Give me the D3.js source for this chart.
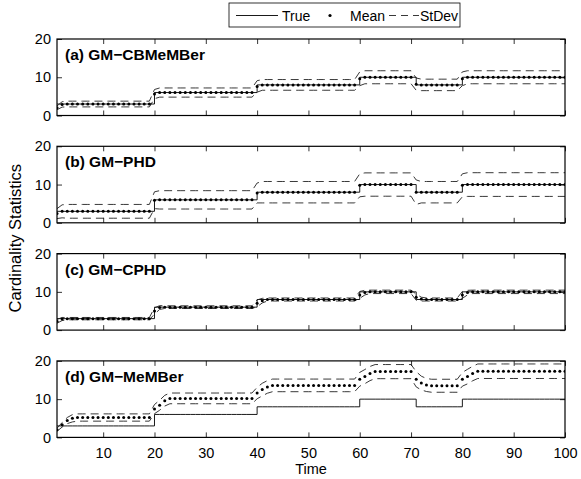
<!DOCTYPE html>
<html>
<head>
<meta charset="utf-8">
<script src="https://cdn.jsdelivr.net/npm/d3@7"></script>
<style>
  body { margin: 0; background: #fff; }
  svg { display: block; }
</style>
</head>
<body>
<div id="chart"></div>
<script>
// time steps 1..100
const timeSteps = d3.range(1, 101);

// true cardinality
const trueCard = [
  3, 3, 3, 3, 3, 3, 3, 3, 3, 3, 3, 3, 3, 3, 3, 3, 3, 3, 3, 6,
  6, 6, 6, 6, 6, 6, 6, 6, 6, 6, 6, 6, 6, 6, 6, 6, 6, 6, 6, 8,
  8, 8, 8, 8, 8, 8, 8, 8, 8, 8, 8, 8, 8, 8, 8, 8, 8, 8, 8, 10,
  10, 10, 10, 10, 10, 10, 10, 10, 10, 10, 8, 8, 8, 8, 8, 8, 8, 8, 8, 10,
  10, 10, 10, 10, 10, 10, 10, 10, 10, 10, 10, 10, 10, 10, 10, 10, 10, 10, 10, 10,
];

// (a) GM-CBMeMBer
const cbMean = [
  2.0, 2.9, 3.0, 3.0, 3.0, 3.0, 3.0, 3.0, 3.0, 3.0, 3.0, 3.0, 3.0, 3.0, 3.0, 3.0, 3.0, 3.0, 3.0, 5.6,
  6.0, 6.0, 6.0, 6.0, 6.0, 6.0, 6.0, 6.0, 6.0, 6.0, 6.0, 6.0, 6.0, 6.0, 6.0, 6.0, 6.0, 6.0, 6.0, 7.6,
  8.0, 8.0, 8.0, 8.0, 8.0, 8.0, 8.0, 8.0, 8.0, 8.0, 8.0, 8.0, 8.0, 8.0, 8.0, 8.0, 8.0, 8.0, 8.0, 9.6,
  10.0, 10.0, 10.0, 10.0, 10.0, 10.0, 10.0, 10.0, 10.0, 10.0, 8.2, 8.0, 8.0, 8.0, 8.0, 8.0, 8.0, 8.0, 8.0, 9.6,
  10.0, 10.0, 10.0, 10.0, 10.0, 10.0, 10.0, 10.0, 10.0, 10.0, 10.0, 10.0, 10.0, 10.0, 10.0, 10.0, 10.0, 10.0, 10.0, 10.0,
];
const cbStd = [
  0.5, 0.7, 0.75, 0.75, 0.75, 0.75, 0.75, 0.75, 0.75, 0.75, 0.75, 0.75, 0.75, 0.75, 0.75, 0.75, 0.75, 0.75, 0.75, 1.2,
  1.2, 1.2, 1.2, 1.2, 1.2, 1.2, 1.2, 1.2, 1.2, 1.2, 1.2, 1.2, 1.2, 1.2, 1.2, 1.2, 1.2, 1.2, 1.2, 1.5,
  1.4, 1.4, 1.4, 1.4, 1.4, 1.4, 1.4, 1.4, 1.4, 1.4, 1.4, 1.4, 1.4, 1.4, 1.4, 1.4, 1.4, 1.4, 1.4, 1.8,
  1.7, 1.7, 1.7, 1.7, 1.7, 1.7, 1.7, 1.7, 1.7, 1.7, 1.6, 1.5, 1.5, 1.5, 1.5, 1.5, 1.5, 1.5, 1.5, 1.8,
  1.7, 1.7, 1.7, 1.7, 1.7, 1.7, 1.7, 1.7, 1.7, 1.7, 1.7, 1.7, 1.7, 1.7, 1.7, 1.7, 1.7, 1.7, 1.7, 1.7,
];

// (b) GM-PHD
const phdMean = [
  2.4, 3.0, 3.0, 3.0, 3.0, 3.0, 3.0, 3.0, 3.0, 3.0, 3.0, 3.0, 3.0, 3.0, 3.0, 3.0, 3.0, 3.0, 3.0, 5.9,
  6.0, 6.0, 6.0, 6.0, 6.0, 6.0, 6.0, 6.0, 6.0, 6.0, 6.0, 6.0, 6.0, 6.0, 6.0, 6.0, 6.0, 6.0, 6.0, 7.8,
  8.0, 8.0, 8.0, 8.0, 8.0, 8.0, 8.0, 8.0, 8.0, 8.0, 8.0, 8.0, 8.0, 8.0, 8.0, 8.0, 8.0, 8.0, 8.0, 9.8,
  10.0, 10.0, 10.0, 10.0, 10.0, 10.0, 10.0, 10.0, 10.0, 10.0, 8.0, 8.0, 8.0, 8.0, 8.0, 8.0, 8.0, 8.0, 8.0, 9.8,
  10.0, 10.0, 10.0, 10.0, 10.0, 10.0, 10.0, 10.0, 10.0, 10.0, 10.0, 10.0, 10.0, 10.0, 10.0, 10.0, 10.0, 10.0, 10.0, 10.0,
];
const phdStd = [
  1.3, 1.7, 1.8, 1.8, 1.8, 1.8, 1.8, 1.8, 1.8, 1.8, 1.8, 1.8, 1.8, 1.8, 1.8, 1.8, 1.8, 1.8, 1.8, 2.2,
  2.4, 2.4, 2.4, 2.4, 2.4, 2.4, 2.4, 2.4, 2.4, 2.4, 2.4, 2.4, 2.4, 2.4, 2.4, 2.4, 2.4, 2.4, 2.4, 2.6,
  2.8, 2.8, 2.8, 2.8, 2.8, 2.8, 2.8, 2.8, 2.8, 2.8, 2.8, 2.8, 2.8, 2.8, 2.8, 2.8, 2.8, 2.8, 2.8, 3.0,
  3.05, 3.05, 3.05, 3.05, 3.05, 3.05, 3.05, 3.05, 3.05, 3.05, 3.2, 2.8, 2.8, 2.8, 2.8, 2.8, 2.8, 2.8, 2.8, 3.0,
  3.1, 3.1, 3.1, 3.1, 3.1, 3.1, 3.1, 3.1, 3.1, 3.1, 3.1, 3.1, 3.1, 3.1, 3.1, 3.1, 3.1, 3.1, 3.1, 3.1,
];

// (c) GM-CPHD
const cphdMean = [
  2.3, 2.9, 3.0, 3.0, 3.0, 3.0, 3.0, 3.0, 3.0, 3.0, 3.0, 3.0, 3.0, 3.0, 3.0, 3.0, 3.0, 3.0, 3.0, 5.0,
  5.9, 6.0, 6.0, 6.0, 6.0, 6.0, 6.0, 6.0, 6.0, 6.0, 6.0, 6.0, 6.0, 6.0, 6.0, 6.0, 6.0, 6.0, 6.0, 7.0,
  7.7, 8.0, 8.0, 8.0, 8.0, 8.0, 8.0, 8.0, 8.0, 8.0, 8.0, 8.0, 8.0, 8.0, 8.0, 8.0, 8.0, 8.0, 8.0, 9.2,
  9.8, 10.0, 10.0, 10.0, 10.0, 10.0, 10.0, 10.0, 10.0, 10.0, 8.6, 8.1, 8.0, 8.0, 8.0, 8.0, 8.0, 8.0, 8.0, 9.2,
  9.8, 10.0, 10.0, 10.0, 10.0, 10.0, 10.0, 10.0, 10.0, 10.0, 10.0, 10.0, 10.0, 10.0, 10.0, 10.0, 10.0, 10.0, 10.0, 10.0,
];
const cphdStd = [
  0.5, 0.4, 0.3, 0.3, 0.3, 0.3, 0.3, 0.3, 0.3, 0.3, 0.3, 0.3, 0.3, 0.3, 0.3, 0.3, 0.3, 0.3, 0.3, 0.8,
  0.5, 0.35, 0.35, 0.35, 0.35, 0.35, 0.35, 0.35, 0.35, 0.35, 0.35, 0.35, 0.35, 0.35, 0.35, 0.35, 0.35, 0.35, 0.35, 0.9,
  0.6, 0.4, 0.4, 0.4, 0.4, 0.4, 0.4, 0.4, 0.4, 0.4, 0.4, 0.4, 0.4, 0.4, 0.4, 0.4, 0.4, 0.4, 0.4, 0.9,
  0.6, 0.45, 0.45, 0.45, 0.45, 0.45, 0.45, 0.45, 0.45, 0.45, 0.8, 0.5, 0.4, 0.4, 0.4, 0.4, 0.4, 0.4, 0.4, 0.9,
  0.6, 0.45, 0.45, 0.45, 0.45, 0.45, 0.45, 0.45, 0.45, 0.45, 0.45, 0.45, 0.45, 0.45, 0.45, 0.45, 0.45, 0.45, 0.45, 0.45,
];

// (d) GM-MeMBer
const memMean = [
  2.0, 3.3, 4.4, 5.0, 5.2, 5.2, 5.2, 5.2, 5.2, 5.2, 5.2, 5.2, 5.2, 5.2, 5.2, 5.2, 5.2, 5.2, 5.2, 7.4,
  8.4, 9.6, 10.2, 10.2, 10.2, 10.2, 10.2, 10.2, 10.2, 10.2, 10.2, 10.2, 10.2, 10.2, 10.2, 10.2, 10.2, 10.2, 10.2, 11.6,
  12.5, 13.2, 13.6, 13.6, 13.6, 13.6, 13.6, 13.6, 13.6, 13.6, 13.6, 13.6, 13.6, 13.6, 13.6, 13.6, 13.6, 13.6, 13.6, 15.2,
  15.9, 16.7, 17.2, 17.2, 17.2, 17.2, 17.2, 17.2, 17.2, 17.2, 15.2, 14.2, 13.7, 13.5, 13.5, 13.5, 13.5, 13.5, 13.5, 15.2,
  15.9, 16.7, 17.3, 17.3, 17.3, 17.3, 17.3, 17.3, 17.3, 17.3, 17.3, 17.3, 17.3, 17.3, 17.3, 17.3, 17.3, 17.3, 17.3, 17.3,
];
const memStd = [
  0.4, 0.6, 0.8, 0.95, 0.95, 0.95, 0.95, 0.95, 0.95, 0.95, 0.95, 0.95, 0.95, 0.95, 0.95, 0.95, 0.95, 0.95, 0.95, 1.2,
  1.3, 1.4, 1.4, 1.4, 1.4, 1.4, 1.4, 1.4, 1.4, 1.4, 1.4, 1.4, 1.4, 1.4, 1.4, 1.4, 1.4, 1.4, 1.4, 1.5,
  1.65, 1.65, 1.65, 1.65, 1.65, 1.65, 1.65, 1.65, 1.65, 1.65, 1.65, 1.65, 1.65, 1.65, 1.65, 1.65, 1.65, 1.65, 1.65, 1.8,
  1.85, 1.85, 1.85, 1.85, 1.85, 1.85, 1.85, 1.85, 1.85, 1.85, 2.0, 1.8, 1.7, 1.7, 1.7, 1.7, 1.7, 1.7, 1.7, 1.8,
  1.9, 1.9, 1.9, 1.9, 1.9, 1.9, 1.9, 1.9, 1.9, 1.9, 1.9, 1.9, 1.9, 1.9, 1.9, 1.9, 1.9, 1.9, 1.9, 1.9,
];

const panelTitles = ['(a) GM\u2212CBMeMBer', '(b) GM\u2212PHD', '(c) GM\u2212CPHD', '(d) GM\u2212MeMBer'];
const panelMeans = [cbMean, phdMean, cphdMean, memMean];
const panelStds = [cbStd, phdStd, cphdStd, memStd];
const xTicks = [10, 20, 30, 40, 50, 60, 70, 80, 90, 100];
const yTicks = [0, 10, 20];
const legendLabels = ['True', 'Mean', 'StDev'];

const width = 581;
const height = 479;
const left = 57;
const right = 565;
const panelTop0 = 39;
const panelStep = 107.3;
const panelH = 76.5;
const font = 'Liberation Sans, Arial, Helvetica, sans-serif';

const svg = d3
  .create('svg')
  .attr('width', width)
  .attr('height', height)
  .attr('font-family', font);

svg.append('rect').attr('width', width).attr('height', height).attr('fill', '#fff');

const x = d3.scaleLinear().domain([1, 100]).range([left, right]);

panelTitles.forEach((title, i) => {
  const top = panelTop0 + i * panelStep;
  const y = d3.scaleLinear().domain([0, 20]).range([top + panelH, top]);
  const g = svg.append('g');
  const mean = panelMeans[i];
  const std = panelStds[i];

  g.append('clipPath')
    .attr('id', `clip-${i}`)
    .append('rect')
    .attr('x', left)
    .attr('y', top)
    .attr('width', right - left)
    .attr('height', panelH);

  const plot = g.append('g').attr('clip-path', `url(#clip-${i})`);

  // true cardinality (step)
  plot
    .append('path')
    .datum(timeSteps)
    .attr('fill', 'none')
    .attr('stroke', '#000')
    .attr('stroke-width', 0.9)
    .attr(
      'd',
      d3
        .line()
        .curve(d3.curveStepAfter)
        .x(k => x(k))
        .y((k, j) => y(trueCard[j]))
    );

  // mean +/- stdev (dashed)
  [1, -1].forEach(sign => {
    plot
      .append('path')
      .datum(timeSteps)
      .attr('fill', 'none')
      .attr('stroke', '#222')
      .attr('stroke-width', 0.9)
      .attr('stroke-dasharray', '8,5')
      .attr(
        'd',
        d3
          .line()
          .x(k => x(k))
          .y((k, j) => y(mean[j] + sign * std[j]))
      );
  });

  // mean (dots)
  plot
    .append('g')
    .selectAll()
    .data(timeSteps)
    .join('circle')
    .attr('cx', k => x(k))
    .attr('cy', (k, j) => y(mean[j]))
    .attr('r', 1.5)
    .attr('fill', '#000');

  // axes, ticks pointing inward like matlab
  const isLast = i === panelTitles.length - 1;
  g.append('g')
    .attr('transform', `translate(0,${top + panelH})`)
    .call(
      d3
        .axisBottom(x)
        .tickValues(xTicks)
        .tickSize(-5)
        .tickPadding(10)
        .tickFormat(d => (isLast ? d : ''))
    );
  g.append('g')
    .attr('transform', `translate(0,${top})`)
    .call(d3.axisTop(x).tickValues(xTicks).tickSize(-5).tickFormat(''));
  g.append('g')
    .attr('transform', `translate(${left},0)`)
    .call(d3.axisLeft(y).tickValues(yTicks).tickSize(-5).tickPadding(6));
  g.append('g')
    .attr('transform', `translate(${right},0)`)
    .call(d3.axisRight(y).tickValues(yTicks).tickSize(-5).tickFormat(''));

  g.selectAll('.domain').remove();
  g.selectAll('.tick line').attr('stroke', '#000').attr('stroke-width', 0.8);
  g.selectAll('.tick text')
    .attr('font-family', font)
    .attr('font-size', 14.5)
    .attr('fill', '#000');

  g.append('rect')
    .attr('x', left)
    .attr('y', top)
    .attr('width', right - left)
    .attr('height', panelH)
    .attr('fill', 'none')
    .attr('stroke', '#000')
    .attr('stroke-width', 1.2);

  g.append('text')
    .attr('x', left + 8)
    .attr('y', top + 21)
    .attr('font-size', 15.5)
    .attr('font-weight', 'bold')
    .text(title);
});

// axis labels
svg
  .append('text')
  .attr('transform', `translate(21,${(panelTop0 + panelTop0 + 3 * panelStep + panelH) / 2}) rotate(-90)`)
  .attr('text-anchor', 'middle')
  .attr('font-size', 16.5)
  .text('Cardinality Statistics');

svg
  .append('text')
  .attr('x', (left + right) / 2)
  .attr('y', 474)
  .attr('text-anchor', 'middle')
  .attr('font-size', 14.5)
  .text('Time');

// legend
const legend = svg.append('g');
legend
  .append('rect')
  .attr('x', 229)
  .attr('y', 3)
  .attr('width', 231)
  .attr('height', 24)
  .attr('fill', '#fff')
  .attr('stroke', '#000')
  .attr('stroke-width', 0.8);

const ly = 15.5;
legend.append('line')
  .attr('x1', 236).attr('x2', 278).attr('y1', ly).attr('y2', ly)
  .attr('stroke', '#000').attr('stroke-width', 0.9);
legend.append('text').attr('x', 282).attr('y', ly + 5).attr('font-size', 14).text(legendLabels[0]);
legend.append('circle').attr('cx', 330).attr('cy', ly).attr('r', 1.6).attr('fill', '#000');
legend.append('text').attr('x', 350).attr('y', ly + 5).attr('font-size', 14).text(legendLabels[1]);
legend.append('line')
  .attr('x1', 389).attr('x2', 419).attr('y1', ly).attr('y2', ly)
  .attr('stroke', '#222').attr('stroke-width', 0.9).attr('stroke-dasharray', '7,5');
legend.append('text').attr('x', 420).attr('y', ly + 5).attr('font-size', 14).text(legendLabels[2]);

document.getElementById('chart').appendChild(svg.node());
</script>
</body>
</html>
